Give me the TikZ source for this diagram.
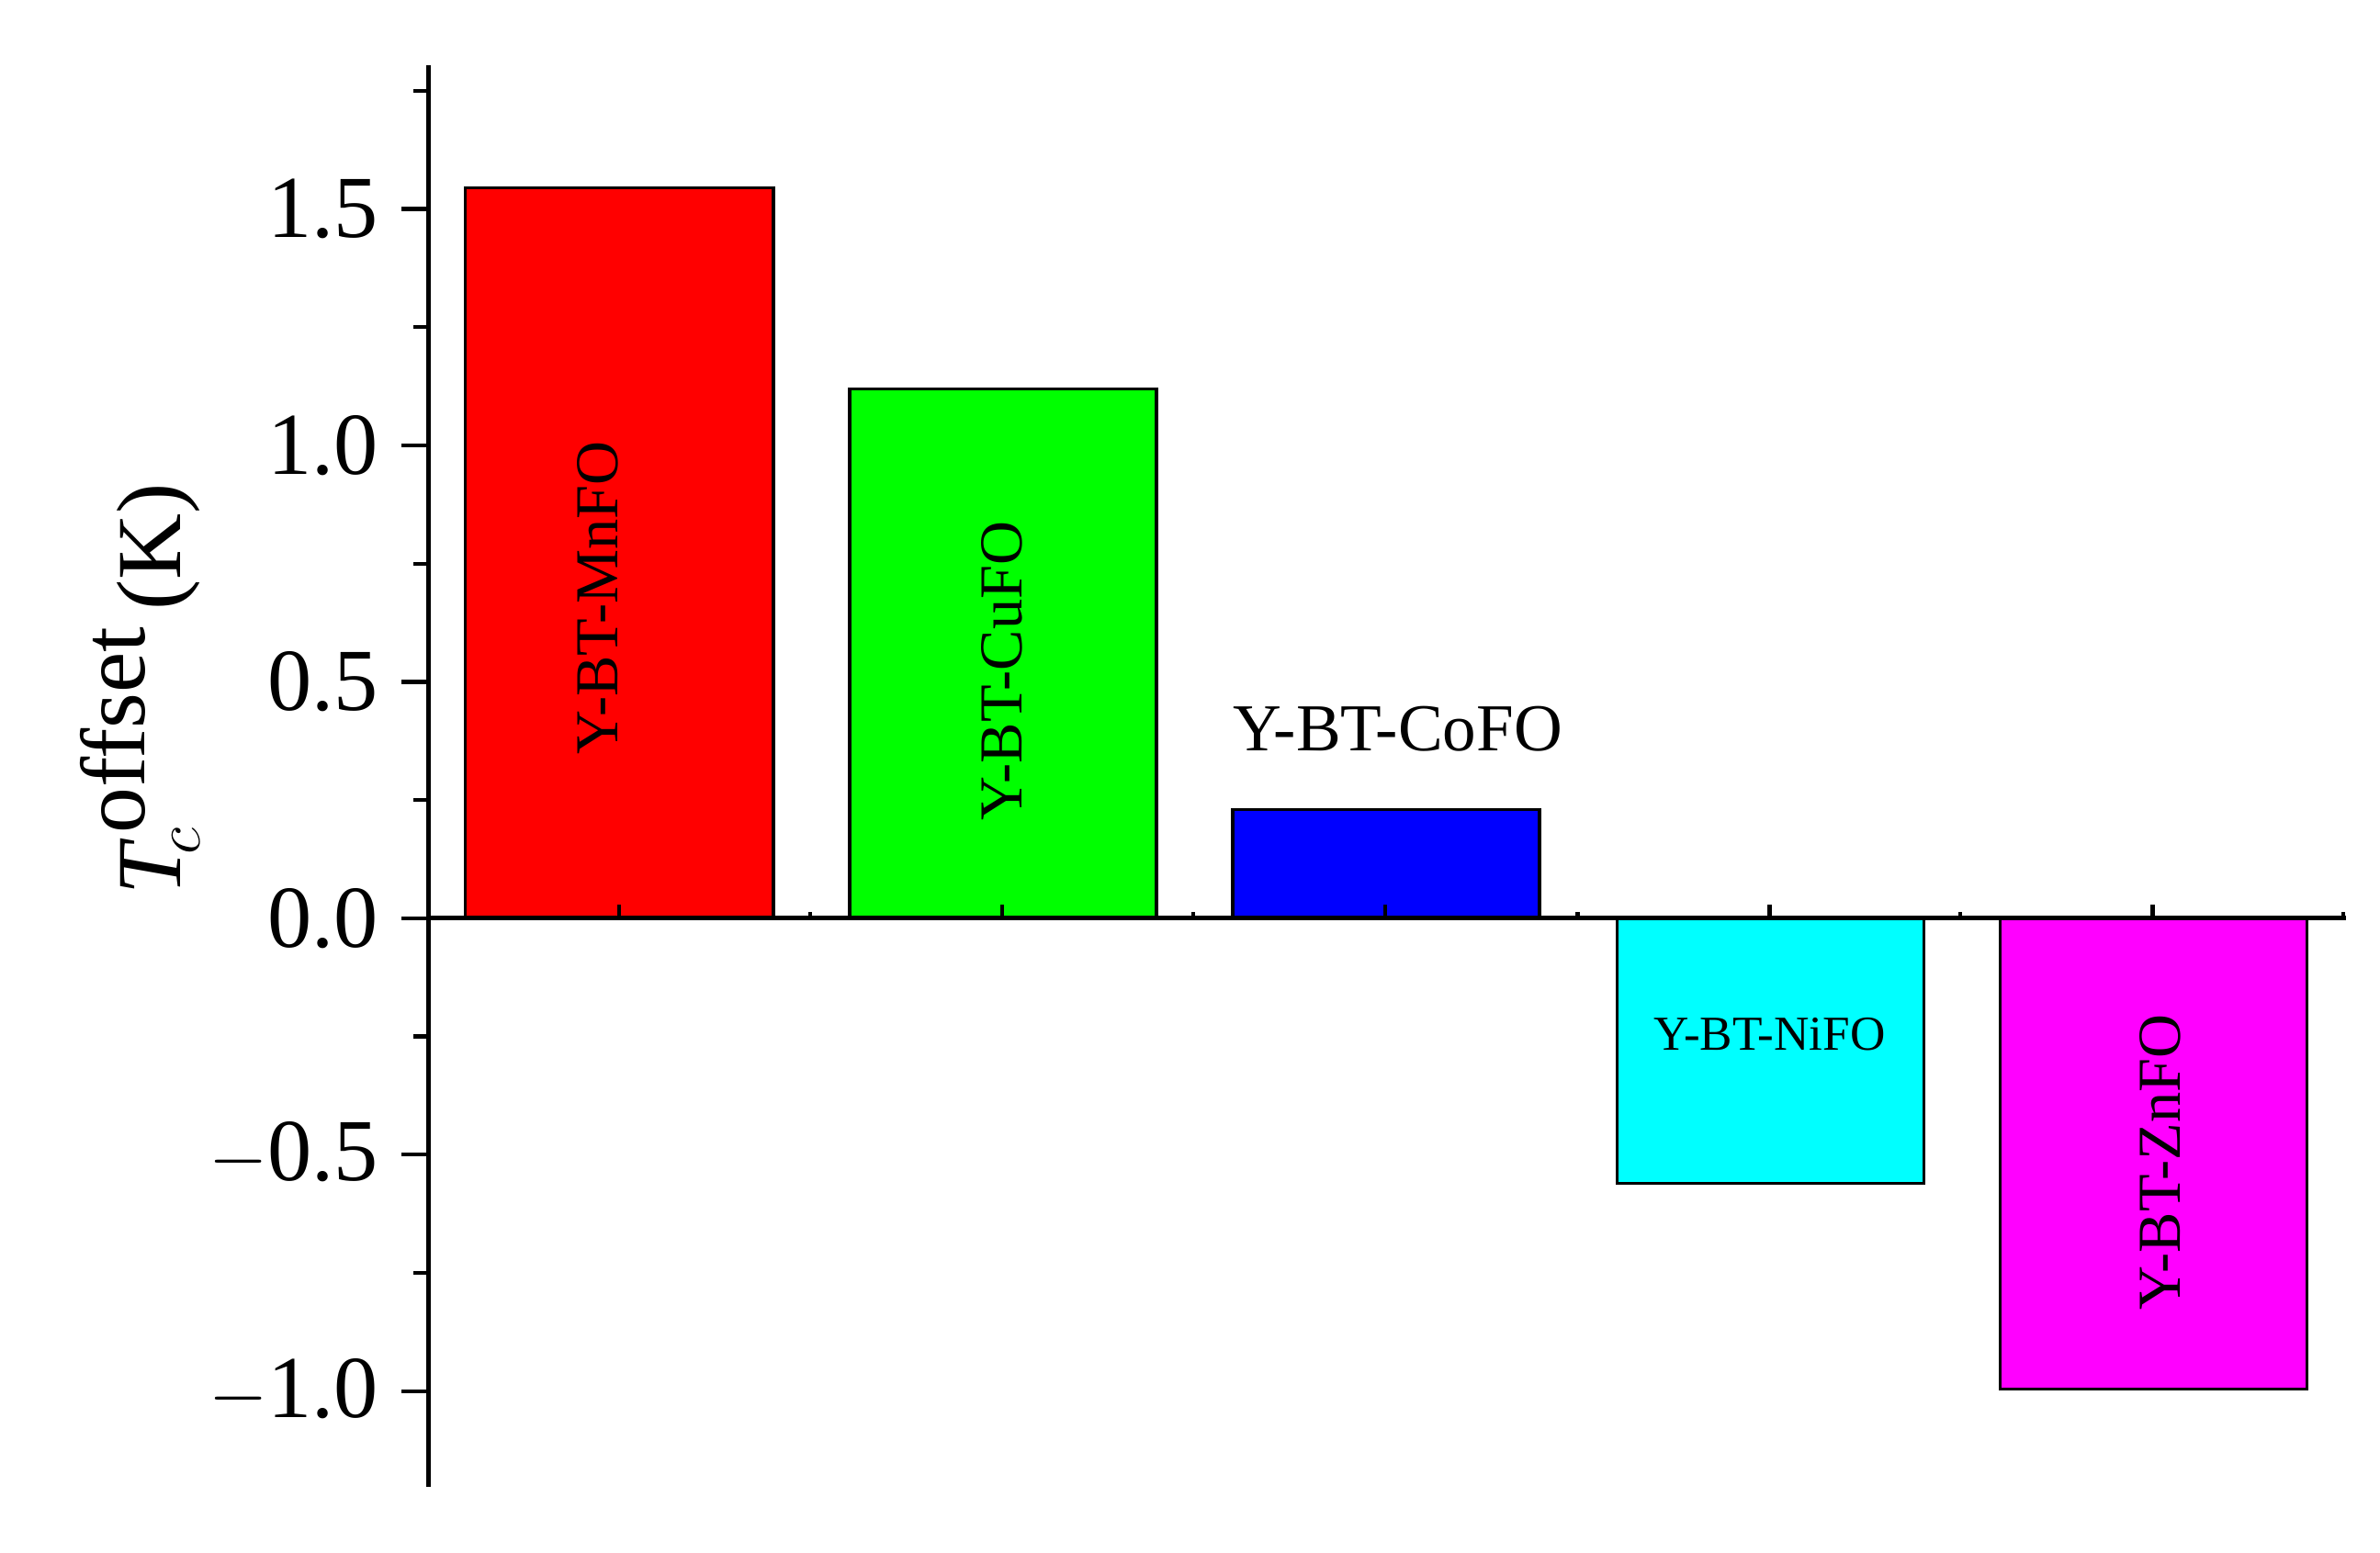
\documentclass[tikz,border=0pt]{standalone}
\usepackage{fontspec}
\setmainfont{Liberation Serif}
\begin{document}
\begin{tikzpicture}[x=0.5pt,y=-0.5pt,
  barbox/.style={draw=black,line width=1pt},
  ax/.style={line width=1.5pt},
  tk/.style={line width=1.3pt},
  ylab/.style={anchor=east,font=\fontsize{29}{29}\selectfont},
  barlab/.style={font=\fontsize{20}{20}\selectfont}]
\useasboundingbox (0,0) rectangle (1560,1018);
\def\Y#1{602-310*#1}
% bars
\draw[barbox,fill={rgb,255:red,255;green,0;blue,0}] (305,602) rectangle (507,{\Y{1.545}});
\draw[barbox,fill={rgb,255:red,0;green,255;blue,0}] (557,602) rectangle (758,{\Y{1.12}});
\draw[barbox,fill={rgb,255:red,0;green,0;blue,255}] (808,602) rectangle (1009,{\Y{0.23}});
\draw[barbox,fill={rgb,255:red,0;green,255;blue,255}] (1060,602) rectangle (1261,{\Y{-0.56}});
\draw[barbox,fill={rgb,255:red,255;green,0;blue,255}] (1311,602) rectangle (1512,{\Y{-0.995}});
% axes
\draw[ax] (281,43) -- (281,975);
\draw[ax] (281,602) -- (1538,602);
\foreach \v/\t in {1.5/1.5,1.0/1.0,0.5/0.5,0/0.0,-0.5/$-$0.5,-1.0/$-$1.0}{
  \draw[tk] (263,{\Y{\v}}) -- (281,{\Y{\v}});
  \node[ylab] at (255,{\Y{\v}}) {\t};}
\foreach \v in {1.75,1.25,0.75,0.25,-0.25,-0.75,-1.25}{
  \pgfmathsetmacro\yy{602-310*\v}
  \ifdim\yy pt<975pt \draw[tk] (271,\yy) -- (281,\yy);\fi}
\foreach \x in {406,657,908,1160,1411} \draw[tk] (\x,602) -- (\x,593);
\foreach \x in {531,782,1034,1285,1536} \draw[tk] (\x,602) -- (\x,598);
% labels
\node[barlab,rotate=90] (l1) at (392,392) {Y-BT-MnFO};
\node[barlab,rotate=90] (l2) at (657,440) {Y-BT-CuFO};
\node[font=\fontsize{22}{22}\selectfont] (l3) at (916,478) {Y-BT-CoFO};
\node[font=\fontsize{16}{16}\selectfont] (l4) at (1160,678) {Y-BT-NiFO};
\node[barlab,rotate=90] (l5) at (1416,762) {Y-BT-ZnFO};
\node[rotate=90,font=\fontsize{30}{30}\selectfont] (yl) at (92,475) {$\mathit{\Delta T}_{\!c}^{\,\textrm{offset}}$\,(K)};
\end{tikzpicture}
\end{document}
